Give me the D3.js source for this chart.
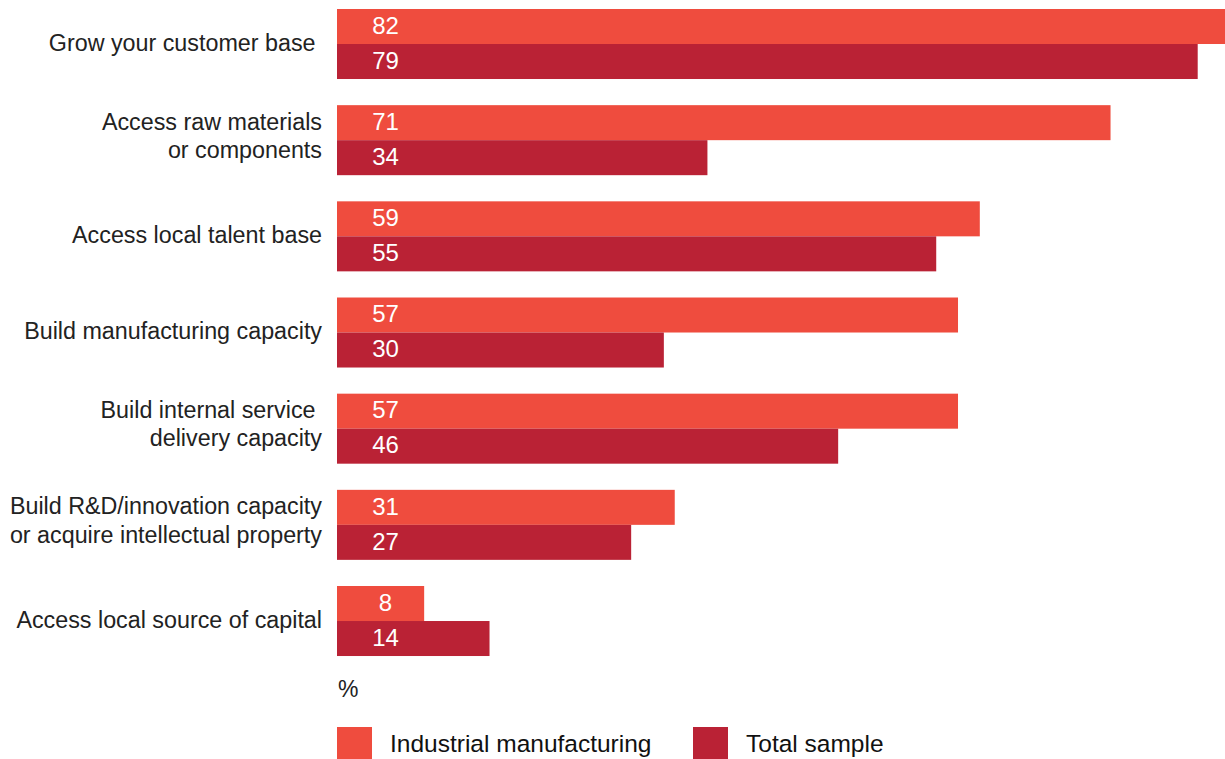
<!DOCTYPE html>
<meta charset="utf-8">
<head>
    <script type="text/javascript" src="https://cdn.jsdelivr.net/npm/d3@7/dist/d3.min.js"></script>
    <style>
        body { margin: 0; background: #fff; }
        text { font-family: "Liberation Sans", Arial, sans-serif; white-space: pre; }
    </style>
</head>
<body>
<div id="chart"></div>
</body>
<script>
    // data
    var categories = [
        ["Grow your customer base "],
        ["Access raw materials", "or components"],
        ["Access local talent base"],
        ["Build manufacturing capacity"],
        ["Build internal service ", "delivery capacity"],
        ["Build R&D/innovation capacity", "or acquire intellectual property"],
        ["Access local source of capital"]
    ];
    var series = ["Industrial manufacturing", "Total sample"];
    var industrial = [82, 71, 59, 57, 57, 31, 8];
    var total = [79, 34, 55, 30, 46, 27, 14];
    var colors = ["#ef4c3e", "#ba2235"];

    var width = 1225, height = 759;

    var svg = d3.select('#chart')
        .append('svg')
        .attr('width', width)
        .attr('height', height);

    var keys = categories.map(function (c) { return c.join(" "); });

    var y0 = d3.scaleBand()
        .domain(keys)
        .range([9, 9 + 96.17 * 7 - 26.17])
        .paddingInner(0.272)
        .paddingOuter(0);

    var y1 = d3.scaleBand()
        .domain(series)
        .range([0, y0.bandwidth()]);

    var x = d3.scaleLinear()
        .domain([0, 79])
        .range([337, 1197.7]);

    var rows = keys.map(function (k, i) {
        return {key: k, lines: categories[i], values: [industrial[i], total[i]]};
    });

    var groups = svg.selectAll('g.group')
        .data(rows)
        .enter().append('g')
        .attr('class', 'group')
        .attr('transform', function (d) { return 'translate(0,' + y0(d.key) + ')'; });

    groups.selectAll('rect')
        .data(function (d) { return d.values.map(function (v, j) { return {s: series[j], v: v, j: j}; }); })
        .enter().append('rect')
        .attr('x', x(0))
        .attr('y', function (d) { return y1(d.s); })
        .attr('width', function (d) { return x(d.v) - x(0); })
        .attr('height', y1.bandwidth())
        .attr('fill', function (d) { return colors[d.j]; });

    groups.selectAll('text.val')
        .data(function (d) { return d.values.map(function (v, j) { return {s: series[j], v: v}; }); })
        .enter().append('text')
        .attr('class', 'val')
        .attr('x', x(0) + 48.5)
        .attr('y', function (d) { return y1(d.s) + y1.bandwidth() / 2; })
        .attr('dy', '0.3em')
        .attr('text-anchor', 'middle')
        .attr('fill', '#fff')
        .style('font-size', '24px')
        .text(function (d) { return d.v; });

    // category labels, right aligned against the bars
    groups.append('text')
        .attr('class', 'cat')
        .attr('text-anchor', 'end')
        .attr('fill', '#222')
        .style('font-size', '23.3px')
        .each(function (d) {
            var t = d3.select(this);
            var n = d.lines.length;
            var shift = n === 1 ? 6.7 : 3.6;
            d.lines.forEach(function (line, i) {
                t.append('tspan')
                    .attr('x', 322)
                    .attr('y', y0.bandwidth() / 2 + (i - (n - 1) / 2) * 28.3 + shift)
                    .text(line);
            });
        });

    svg.append('text')
        .attr('x', 338)
        .attr('y', 697)
        .attr('fill', '#222')
        .style('font-size', '23px')
        .text('%');

    // legend
    var legendX = [337, 693];
    var legend = svg.selectAll('g.legend')
        .data(series)
        .enter().append('g')
        .attr('class', 'legend')
        .attr('transform', function (d, i) { return 'translate(' + legendX[i] + ',727)'; });

    legend.append('rect')
        .attr('width', 35)
        .attr('height', 35)
        .attr('fill', function (d, i) { return colors[i]; });

    legend.append('text')
        .attr('x', 53)
        .attr('y', 25)
        .attr('fill', '#111')
        .style('font-size', '24.5px')
        .text(function (d) { return d; });
</script>
</html>
